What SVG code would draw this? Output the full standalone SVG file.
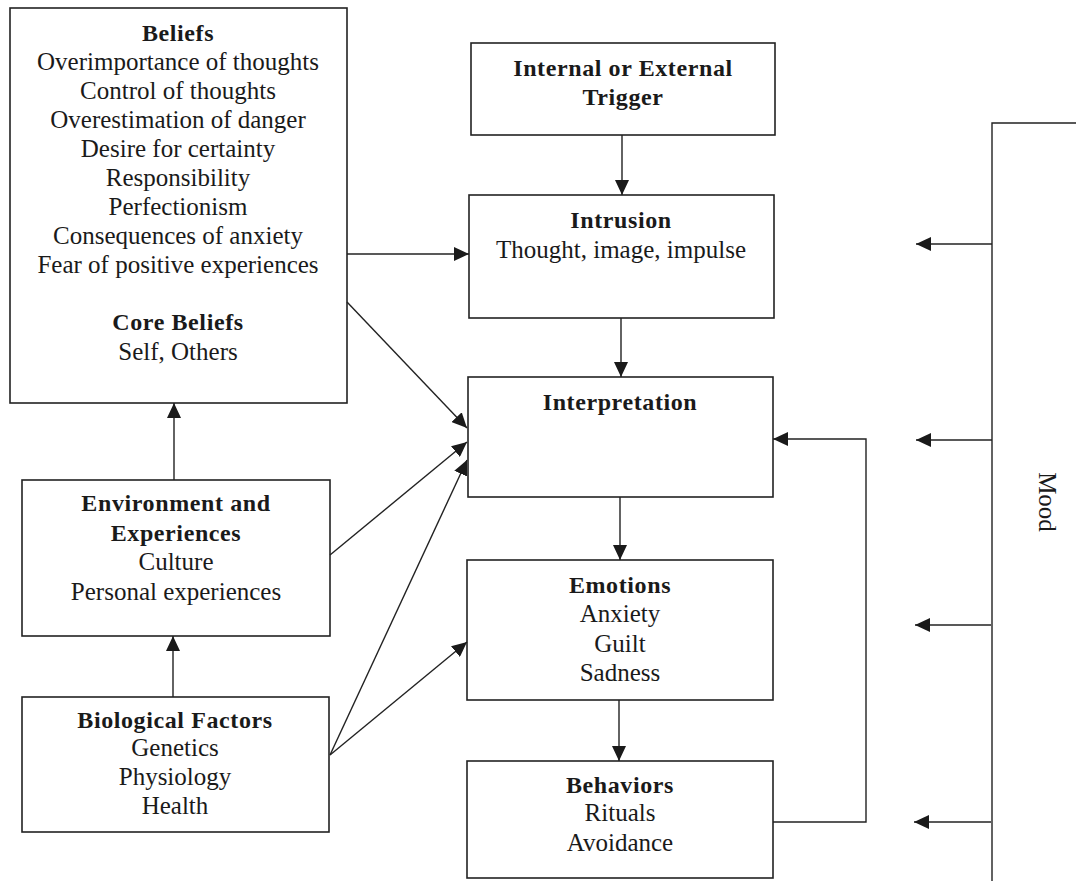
<svg xmlns="http://www.w3.org/2000/svg" width="1076" height="881" viewBox="0 0 1076 881">
<style>
  .box { fill: #fff; stroke: #222; stroke-width: 1.6; }
  .t { font-family: "Liberation Serif", "Times New Roman", serif; font-size: 25px; fill: #1a1a1a; text-anchor: middle; }
  .b { font-weight: bold; font-size: 24px; letter-spacing: 0.6px; }
  .c { fill: none; stroke: #222; stroke-width: 1.4; }
</style>
<defs>
  <marker id="ah" markerUnits="userSpaceOnUse" markerWidth="16" markerHeight="14" refX="15" refY="7" orient="auto">
    <path d="M0,0 L15,7 L0,14 Z" fill="#1a1a1a"/>
  </marker>
</defs>
<rect width="1076" height="881" fill="#fff"/>

<g id="beliefs">
  <rect class="box" x="10" y="8" width="337" height="395"/>
  <text class="t b" x="178" y="41">Beliefs</text>
  <text class="t" x="178" y="70">Overimportance of thoughts</text>
  <text class="t" x="178" y="99">Control of thoughts</text>
  <text class="t" x="178" y="128">Overestimation of danger</text>
  <text class="t" x="178" y="157">Desire for certainty</text>
  <text class="t" x="178" y="186">Responsibility</text>
  <text class="t" x="178" y="215">Perfectionism</text>
  <text class="t" x="178" y="244">Consequences of anxiety</text>
  <text class="t" x="178" y="273">Fear of positive experiences</text>
  <text class="t b" x="178" y="330">Core Beliefs</text>
  <text class="t" x="178" y="360">Self, Others</text>
</g>

<g id="environment">
  <rect class="box" x="22" y="480" width="308" height="156"/>
  <text class="t b" x="176" y="511">Environment and</text>
  <text class="t b" x="176" y="541">Experiences</text>
  <text class="t" x="176" y="570">Culture</text>
  <text class="t" x="176" y="600">Personal experiences</text>
</g>

<g id="biological">
  <rect class="box" x="22" y="697" width="307" height="135"/>
  <text class="t b" x="175" y="728">Biological Factors</text>
  <text class="t" x="175" y="756">Genetics</text>
  <text class="t" x="175" y="785">Physiology</text>
  <text class="t" x="175" y="814">Health</text>
</g>

<g id="trigger">
  <rect class="box" x="471" y="43" width="304" height="92"/>
  <text class="t b" x="623" y="76">Internal or External</text>
  <text class="t b" x="623" y="105">Trigger</text>
</g>

<g id="intrusion">
  <rect class="box" x="469" y="195" width="305" height="123"/>
  <text class="t b" x="621" y="228">Intrusion</text>
  <text class="t" x="621" y="258">Thought, image, impulse</text>
</g>

<g id="interpretation">
  <rect class="box" x="468" y="377" width="305" height="120"/>
  <text class="t b" x="620" y="410">Interpretation</text>
</g>

<g id="emotions">
  <rect class="box" x="467" y="560" width="306" height="140"/>
  <text class="t b" x="620" y="593">Emotions</text>
  <text class="t" x="620" y="622">Anxiety</text>
  <text class="t" x="620" y="652">Guilt</text>
  <text class="t" x="620" y="681">Sadness</text>
</g>

<g id="behaviors">
  <rect class="box" x="467" y="761" width="306" height="117"/>
  <text class="t b" x="620" y="793">Behaviors</text>
  <text class="t" x="620" y="821">Rituals</text>
  <text class="t" x="620" y="851">Avoidance</text>
</g>

<g id="mood">
  <text class="t" transform="translate(1039,502) rotate(90)" x="0" y="0">Mood</text>
</g>

<g id="connectors">
  <line class="c" x1="622" y1="135" x2="622" y2="195" marker-end="url(#ah)"/>
  <line class="c" x1="621" y1="318" x2="621" y2="377" marker-end="url(#ah)"/>
  <line class="c" x1="620" y1="497" x2="620" y2="560" marker-end="url(#ah)"/>
  <line class="c" x1="619" y1="700" x2="619" y2="761" marker-end="url(#ah)"/>
  <line class="c" x1="347" y1="254" x2="469" y2="254" marker-end="url(#ah)"/>
  <line class="c" x1="347" y1="302" x2="467" y2="428" marker-end="url(#ah)"/>
  <line class="c" x1="330" y1="555" x2="467" y2="442" marker-end="url(#ah)"/>
  <line class="c" x1="330" y1="755" x2="467" y2="460" marker-end="url(#ah)"/>
  <line class="c" x1="330" y1="755" x2="467" y2="642" marker-end="url(#ah)"/>
  <line class="c" x1="174" y1="480" x2="174" y2="403" marker-end="url(#ah)"/>
  <line class="c" x1="173" y1="697" x2="173" y2="636" marker-end="url(#ah)"/>
  <polyline class="c" points="773,822 866,822 866,439 773,439" marker-end="url(#ah)"/>
  <polyline class="c" points="1076,123 992,123 992,881"/>
  <line class="c" x1="992" y1="244" x2="916" y2="244" marker-end="url(#ah)"/>
  <line class="c" x1="992" y1="440" x2="916" y2="440" marker-end="url(#ah)"/>
  <line class="c" x1="991" y1="625" x2="915" y2="625" marker-end="url(#ah)"/>
  <line class="c" x1="991" y1="822" x2="914" y2="822" marker-end="url(#ah)"/>
</g>
</svg>
